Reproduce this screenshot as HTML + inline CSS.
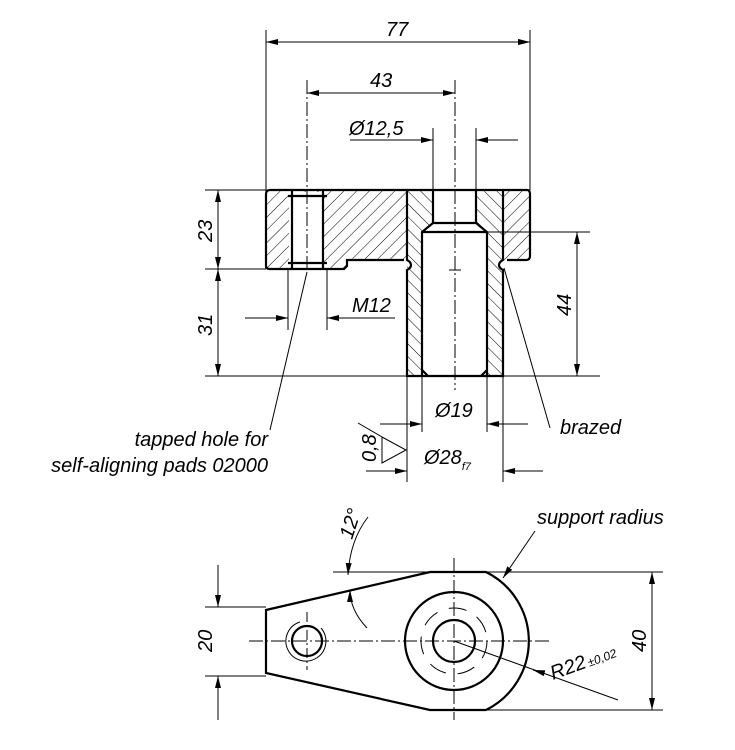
<!DOCTYPE html>
<html><head><meta charset="utf-8"><style>
html,body{margin:0;padding:0;background:#fff;}
svg{display:block;}
text{font-family:"Liberation Sans",sans-serif;font-style:italic;fill:#000;}
</style></head><body>
<svg width="735" height="750" viewBox="0 0 735 750" xmlns="http://www.w3.org/2000/svg">
<defs>
<pattern id="hA" width="9" height="9" patternUnits="userSpaceOnUse" patternTransform="rotate(45)"><line x1="0" y1="0" x2="0" y2="9" stroke="#000" stroke-width="1"/></pattern>
<pattern id="hB" width="9" height="9" patternUnits="userSpaceOnUse" patternTransform="rotate(-45)"><line x1="0" y1="0" x2="0" y2="9" stroke="#000" stroke-width="1"/></pattern>
<marker id="ar" viewBox="0 0 12 6" refX="12" refY="3" markerWidth="12" markerHeight="6" orient="auto" markerUnits="userSpaceOnUse"><path d="M0,0 L12,3 L0,6z" fill="#000"/></marker>
</defs>
<g stroke="#000" fill="none" stroke-width="1">
<!-- flange hatch -->
<path d="M266,190 H407 V260 H347 V269 H266z" fill="url(#hA)" stroke="none"/>
<path d="M503,190 H530 V260 H503z" fill="url(#hA)" stroke="none"/>
<!-- sleeve hatch -->
<path d="M407,190 H433 V223 L422,232 V376 H407z" fill="url(#hB)" stroke="none"/>
<path d="M476,190 H503 V376 H487 V232 L476,223z" fill="url(#hB)" stroke="none"/>
<rect x="289" y="192" width="35" height="76" fill="#fff" stroke="none"/>
<!-- outlines -->
<g stroke-width="2.2">
<path d="M270,190 H527 Q530,190 530,194 V256 Q530,260 526,260 H507 M266,194 Q266,190 270,190 M266,194 V266 Q266,269 270,269 H344 L347,266 V260 H404"/>
<path d="M407,190 V260 Q411,262 411,265 Q411,268 407,270 V376 H503 V270 Q499,268 499,265 Q499,262 503,260 V190"/>
<path d="M433,190 V223 H476 V190 M422,232 H487 M433,223 L422,232 V376 M476,223 L487,232 V376 M422,370 L428,376 M487,370 L481,376"/>
<path d="M292,190 V269 M323,190 V269 M288,196 H327 M288,263 H327"/>
</g>
<line x1="503" y1="190" x2="503" y2="260"/>
<line x1="266" y1="190" x2="266" y2="269"/>
<!-- centerlines -->
<line x1="455" y1="80" x2="455" y2="390" stroke-dasharray="14,3,2,3"/>
<line x1="307" y1="80" x2="307" y2="272" stroke-dasharray="14,3,2,3"/>
<line x1="449" y1="270" x2="461" y2="270"/>
<!-- ext lines -->
<line x1="266" y1="30" x2="266" y2="190"/><line x1="530" y1="30" x2="530" y2="190"/>
<line x1="433" y1="128" x2="433" y2="190"/><line x1="476" y1="128" x2="476" y2="190"/>
<line x1="205" y1="190" x2="266" y2="190"/><line x1="205" y1="269" x2="266" y2="269"/>
<line x1="205" y1="376" x2="600" y2="376"/><line x1="487" y1="232" x2="590" y2="232"/>
<line x1="288" y1="269" x2="288" y2="330"/><line x1="327" y1="269" x2="327" y2="330"/>
<line x1="407" y1="376" x2="407" y2="482"/><line x1="503" y1="376" x2="503" y2="482"/>
<line x1="422" y1="376" x2="422" y2="432"/><line x1="487" y1="376" x2="487" y2="432"/>
<!-- dims -->
<line x1="266" y1="42" x2="530" y2="42" marker-start="url(#ar)" marker-end="url(#ar)" style="marker-start:none"/>
<line x1="398" y1="42" x2="266" y2="42" marker-end="url(#ar)"/><line x1="398" y1="42" x2="530" y2="42" marker-end="url(#ar)"/>
<line x1="380" y1="93" x2="307" y2="93" marker-end="url(#ar)"/><line x1="380" y1="93" x2="455" y2="93" marker-end="url(#ar)"/>
<line x1="350" y1="140" x2="433" y2="140" marker-end="url(#ar)"/><line x1="518" y1="140" x2="476" y2="140" marker-end="url(#ar)"/>
<line x1="218" y1="230" x2="218" y2="190" marker-end="url(#ar)"/><line x1="218" y1="230" x2="218" y2="269" marker-end="url(#ar)"/>
<line x1="218" y1="320" x2="218" y2="269" marker-end="url(#ar)"/><line x1="218" y1="320" x2="218" y2="376" marker-end="url(#ar)"/>
<line x1="577" y1="300" x2="577" y2="232" marker-end="url(#ar)"/><line x1="577" y1="300" x2="577" y2="376" marker-end="url(#ar)"/>
<line x1="245" y1="318" x2="288" y2="318" marker-end="url(#ar)"/><line x1="395" y1="318" x2="327" y2="318" marker-end="url(#ar)"/>
<line x1="380" y1="424" x2="422" y2="424" marker-end="url(#ar)"/><line x1="528" y1="424" x2="487" y2="424" marker-end="url(#ar)"/>
<line x1="366" y1="471" x2="407" y2="471" marker-end="url(#ar)"/><line x1="543" y1="471" x2="503" y2="471" marker-end="url(#ar)"/>
<!-- leaders -->
<line x1="307" y1="272" x2="270" y2="430"/>
<line x1="504" y1="268" x2="550" y2="428"/>
<path d="M358,423 L382,437 V463 L406,450 L382,437"/>
<!-- bottom view -->
<g stroke-width="2.2">
<path d="M266,610 L430,572 H486 A77,77 0 0 1 486,710 H430 L266,673 Z"/>
<circle cx="454" cy="641" r="49"/><circle cx="454" cy="641" r="21"/><circle cx="307" cy="641" r="15"/>
</g>
<path d="M321,628 A20,20 0 1 1 300,622" />
<g stroke-dasharray="18,12"><circle cx="454" cy="641" r="33"/></g>
<line x1="249" y1="641" x2="552" y2="641" stroke-dasharray="14,3,2,3"/>
<line x1="454" y1="558" x2="454" y2="720" stroke-dasharray="14,3,2,3"/>
<line x1="307" y1="612" x2="307" y2="670" stroke-dasharray="10,3,2,3"/>
<line x1="333" y1="572" x2="663" y2="572"/><line x1="486" y1="710" x2="663" y2="710"/>
<line x1="205" y1="607" x2="266" y2="607"/><line x1="205" y1="676" x2="266" y2="676"/>
<line x1="218" y1="565" x2="218" y2="607" marker-end="url(#ar)"/><line x1="218" y1="720" x2="218" y2="676" marker-end="url(#ar)"/>
<line x1="652" y1="641" x2="652" y2="572" marker-end="url(#ar)"/><line x1="652" y1="641" x2="652" y2="710" marker-end="url(#ar)"/>
<path d="M368,517 Q350,540 348,575" marker-end="url(#ar)"/>
<path d="M367,628 Q350,610 350,590" marker-end="url(#ar)"/>
<line x1="535" y1="531" x2="503" y2="578" marker-end="url(#ar)"/>
<line x1="618" y1="700" x2="454" y2="641"/>
<line x1="540" y1="672" x2="533" y2="670" marker-end="url(#ar)"/>
</g>
<g font-size="20">
<text x="386" y="36">77</text>
<text x="370" y="87">43</text>
<text x="349" y="135">Ø12,5</text>
<text x="352" y="312">M12</text>
<text x="435" y="417">Ø19</text>
<text x="424" y="464">Ø28<tspan font-size="11" dy="6">f7</tspan></text>
<text transform="translate(212,242) rotate(-90)">23</text>
<text transform="translate(212,336) rotate(-90)">31</text>
<text transform="translate(571,316) rotate(-90)">44</text>
<text transform="translate(376,462) rotate(-90)">0,8</text>
<text x="268" y="446" text-anchor="end">tapped hole for</text>
<text x="268" y="472" text-anchor="end">self-aligning pads 02000</text>
<text x="560" y="434">brazed</text>
<text x="537" y="524">support radius</text>
<text transform="translate(212,652) rotate(-90)">20</text>
<text transform="translate(646,652) rotate(-90)">40</text>
<text transform="translate(352,540) rotate(-72)">12°</text>
<text transform="translate(553,680) rotate(-20)">R22<tspan font-size="12" dx="2">±0,02</tspan></text>
</g>
</svg>
</body></html>
